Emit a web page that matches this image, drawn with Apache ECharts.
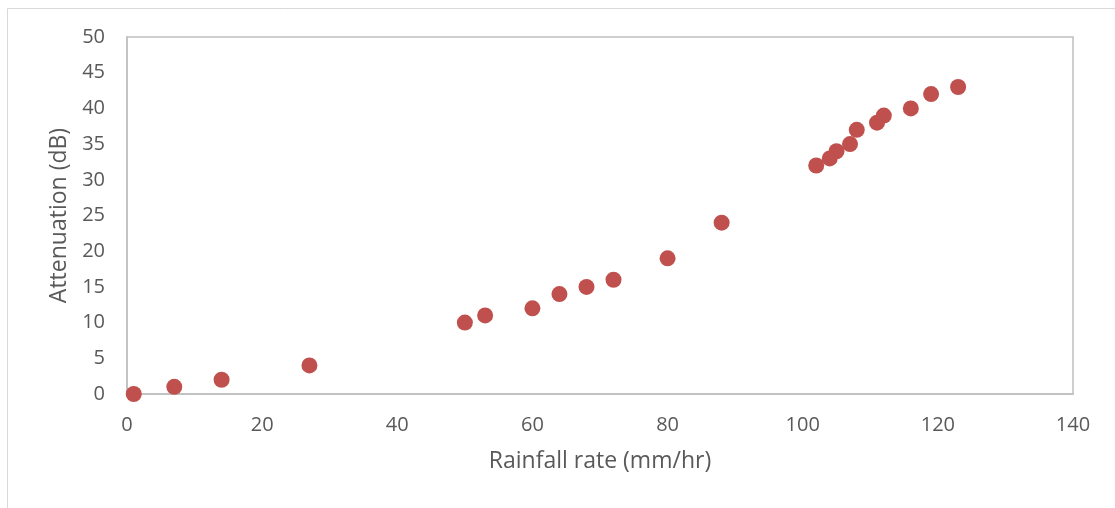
<!DOCTYPE html>
<html>
<head>
<meta charset="utf-8">
<script src="https://cdn.jsdelivr.net/npm/echarts@6/dist/echarts.min.js"></script>
<style>
  html, body { margin: 0; padding: 0; background: #fff; }
  #chart { width: 1115px; height: 508px; }
</style>
</head>
<body>
<div id="chart"></div>
<script>
// Rainfall rate (mm/hr) vs measured attenuation (dB)
const rainfallRate = [1, 7, 14, 27, 50, 53, 60, 64, 68, 72, 80, 88, 102, 104, 105, 107, 108, 111, 112, 116, 119, 123];
const attenuation  = [0, 1, 2, 4, 10, 11, 12, 14, 15, 16, 19, 24, 32, 33, 34, 35, 37, 38, 39, 40, 42, 43];

const xTicks = { min: 0, max: 140, interval: 20 };
const yTicks = { min: 0, max: 50, interval: 5 };

const points = rainfallRate.map((r, i) => [r, attenuation[i]]);

const fontFamily = '"Open Sans", sans-serif';
const tickFont = { color: '#595959', fontSize: 20, fontFamily };
const titleFont = { color: '#595959', fontSize: 23, fontFamily };

const chart = echarts.init(document.getElementById('chart'), null, { renderer: 'canvas' });
chart.setOption({
  animation: false,
  backgroundColor: '#ffffff',
  graphic: [{
    type: 'rect',
    shape: { x: 7.5, y: 8.5, width: 1200, height: 600 },
    style: { fill: 'none', stroke: '#d9d9d9', lineWidth: 1 },
    silent: true
  }],
  grid: {
    left: 127, top: 37, right: 42, bottom: 114,
    show: true, borderColor: '#bfbfbf', borderWidth: 1.5,
    containLabel: false
  },
  xAxis: {
    type: 'value',
    min: xTicks.min, max: xTicks.max, interval: xTicks.interval,
    name: 'Rainfall rate (mm/hr)',
    nameLocation: 'middle',
    nameGap: 56,
    nameTextStyle: titleFont,
    axisLine: { show: true, lineStyle: { color: '#bfbfbf', width: 1.5 } },
    axisTick: { show: false },
    splitLine: { show: false },
    axisLabel: Object.assign({ margin: 21 }, tickFont)
  },
  yAxis: {
    type: 'value',
    min: yTicks.min, max: yTicks.max, interval: yTicks.interval,
    name: 'Attenuation (dB)',
    nameLocation: 'middle',
    nameGap: 53,
    nameTextStyle: titleFont,
    axisLine: { show: true, lineStyle: { color: '#bfbfbf', width: 1.5 } },
    axisTick: { show: false },
    splitLine: { show: false },
    axisLabel: Object.assign({ margin: 22 }, tickFont)
  },
  series: [{
    type: 'scatter',
    data: points,
    symbol: 'circle',
    symbolSize: 16,
    itemStyle: { color: '#c0504d', opacity: 1 }
  }]
});
</script>
</body>
</html>
